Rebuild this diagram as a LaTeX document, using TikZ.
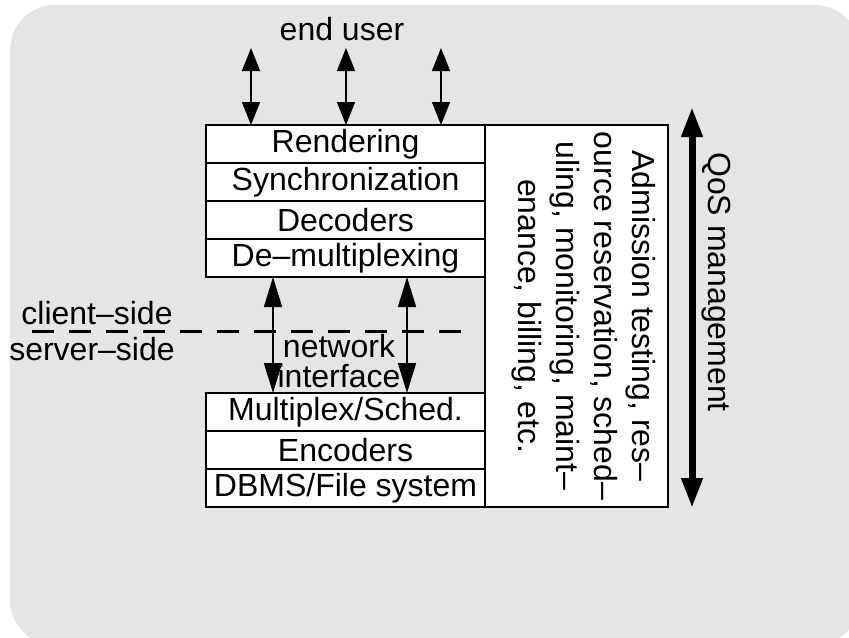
\documentclass[tikz,border=0pt]{standalone}
\usepackage{fontspec}
\setmainfont{Liberation Sans}
\usetikzlibrary{arrows.meta, positioning}

\begin{document}
\begin{tikzpicture}[
  x=0.5pt, y=-0.5pt,
  node distance=0pt,
  font=\fontsize{16}{19}\selectfont,
  layer/.style={rectangle, draw=black, thick, fill=white,
               minimum width=139.5pt, minimum height=19pt,
               inner sep=0pt, outer sep=0pt},
  qosbox/.style={rectangle, draw=black, thick, fill=white,
               minimum width=91.5pt, minimum height=191pt,
               inner sep=0pt, outer sep=0pt},
  label/.style={inner sep=0pt, align=center},
  arrow/.style={{Triangle[length=11.5pt, width=9pt]}-{Triangle[length=11.5pt, width=9pt]}, thick},
  netarrow/.style={{Triangle[length=15pt, width=9pt]}-{Triangle[length=15pt, width=9pt]}, thick},
  qosarrow/.style={{Triangle[length=15pt, width=10pt]}-{Triangle[length=15pt, width=10pt]}, line width=3.5pt},
  divide/.style={line width=1.5pt, dash pattern=on 11pt off 7.5pt}
]
\useasboundingbox (0,0) rectangle (849,637);
\fill[black!10, rounded corners=22.5pt] (10,5) rectangle (860,645);

% client stack
\node[layer] (render) at (345.5,144) {Rendering};
\node[layer, below=of render] (sync) {Synchronization};
\node[layer, below=of sync] (decode) {Decoders};
\node[layer, below=of decode] (demux) {De–multiplexing};

% server stack
\node[layer] (mux) at (345.5,412) {Multiplex/Sched.};
\node[layer, below=of mux] (encode) {Encoders};
\node[layer, below=of encode] (dbms) {DBMS/File system};

% QoS functions
\node[qosbox, anchor=north west] (admit) at (render.north east) {};
\node[label, rotate=-90] (admittext) at (584,316) {%
  Admission testing, res–\\
  ource reservation, sched–\\
  uling, monitoring, maint–\\
  enance, billing, etc.};

\node[label] (enduser) at (342,29) {end user};
\foreach \x [count=\i] in {251,346,441} {
  \coordinate (user\i) at (\x,48);
  \draw[arrow] (user\i) -- (user\i |- render.north);
}

\foreach \x [count=\i] in {273,407} {
  \coordinate (net\i) at (\x,331);
  \draw[netarrow] (net\i |- demux.south) -- (net\i |- mux.north);
}
\node[label, font=\fontsize{16}{15}\selectfont] (netif) at (339,361) {network\\interface};

% client/server border
\coordinate (borderL) at (32,331);
\coordinate (borderR) at (472,331);
\draw[divide] (borderL) -- (borderR);
\node[label] (client) at (97,313) {client–side};
\node[label] (server) at (92,349) {server–side};

\coordinate (qostop) at (692,107);
\coordinate (qosbot) at (692,508);
\draw[qosarrow] (qostop) -- (qosbot);
\node[label, rotate=-90] (qos) at (716,282) {QoS management};

\end{tikzpicture}
\end{document}
